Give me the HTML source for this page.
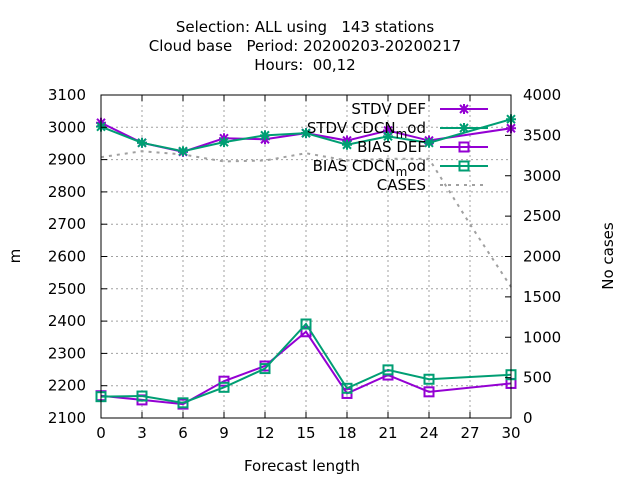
<!DOCTYPE html>
<html><head><meta charset="utf-8"><style>
body{margin:0;background:#fff}
svg{font-family:"DejaVu Sans","Liberation Sans",sans-serif;font-size:15px}
text{white-space:pre}
</style></head><body>
<svg width="640" height="480" id="c">
<g id="grid"></g>
<g id="marks"></g>
<g id="axes"></g>
<text x="305" y="32" text-anchor="middle">Selection: ALL using   143 stations</text>
<text x="305" y="51" text-anchor="middle">Cloud base   Period: 20200203-20200217</text>
<text x="305" y="70" text-anchor="middle">Hours:  00,12</text>
<text x="302" y="471" text-anchor="middle">Forecast length</text>
<text transform="translate(20,256) rotate(-90)" text-anchor="middle">m</text>
<text transform="translate(613,256) rotate(-90)" text-anchor="middle">No cases</text>
<g id="legend"></g>
</svg>
<script>
const xs=[0,3,6,9,12,15,18,21,24,30];
const stdvDef=[3014,2952,2924,2966,2963,2982,2959,2990,2959,2997];
const stdvMod=[3002,2952,2926,2954,2975,2982,2946,2972,2952,3025];
const biasDef=[2169,2156,2143,2214,2261,2367,2176,2233,2181,2207];
const biasMod=[2166,2168,2147,2195,2253,2391,2192,2249,2220,2234];
const casesX=[0,3,6,9,12,15,18,21,24,27,30];
const cases=[3230,3304,3263,3177,3189,3279,3189,3210,3210,2400,1623];
const xTicks=[0,3,6,9,12,15,18,21,24,27,30];
const yTicks=[2100,2200,2300,2400,2500,2600,2700,2800,2900,3000,3100];
const y2Ticks=[0,500,1000,1500,2000,2500,3000,3500,4000];
const L=101,R=511,T=95,B=418;
const X=v=>L+(v/30)*(R-L);
const Y=v=>B-(v-2100)/1000*(B-T);
const Y2=v=>B-v/4000*(B-T);
const NS="http://www.w3.org/2000/svg";
function mk(p,t,a){const e=document.createElementNS(NS,t);for(const k in a)e.setAttribute(k,a[k]);p.appendChild(e);return e;}
const grid=document.getElementById('grid'),axes=document.getElementById('axes'),marks=document.getElementById('marks'),leg=document.getElementById('legend');
xTicks.forEach(v=>{
 const g=mk(grid,'line',{x1:X(v),x2:X(v),y1:T,y2:B,stroke:'#a0a0a0','stroke-dasharray':'2,3'});
 
 
 mk(axes,'line',{x1:X(v),x2:X(v),y1:B,y2:B-6,stroke:'#000'});
 mk(axes,'line',{x1:X(v),x2:X(v),y1:T,y2:T+6,stroke:'#000'});
 const t=mk(axes,'text',{x:X(v),y:B+20,'text-anchor':'middle'});t.textContent=v;
 
 
});
yTicks.forEach(v=>{
 const g=mk(grid,'line',{x1:L,x2:R,y1:Y(v),y2:Y(v),stroke:'#a0a0a0','stroke-dasharray':'2,3'});
 
 
 mk(axes,'line',{x1:L,x2:L+6,y1:Y(v),y2:Y(v),stroke:'#000'});
 const t=mk(axes,'text',{x:L-15,y:Y(v)+5,'text-anchor':'end'});t.textContent=v;
 
 
});
y2Ticks.forEach(v=>{
 mk(axes,'line',{x1:R,x2:R-6,y1:Y2(v),y2:Y2(v),stroke:'#000'});
 const t=mk(axes,'text',{x:R+12,y:Y2(v)+5,'text-anchor':'start'});t.textContent=v;
 
 
});
mk(axes,'rect',{x:L,y:T,width:R-L,height:B-T,fill:'none',stroke:'#000'});
const casesLine=mk(marks,'polyline',{points:casesX.map((v,i)=>X(v)+','+Y2(cases[i])).join(' '),fill:'none',stroke:'#a0a0a0','stroke-width':2,'stroke-dasharray':'3,5'});


function star(p,x,y,c){mk(p,'path',{d:`M${x-5},${y}h10M${x},${y-5}v10M${x-4},${y-4}l8,8M${x-4},${y+4}l8,-8`,stroke:c,'stroke-width':2,fill:'none'});}
function sq(p,x,y,c){mk(p,'rect',{x:x-4.5,y:y-4.5,width:9,height:9,stroke:c,'stroke-width':2,fill:'none'});}
function series(vals,c,m,name){
 const g=mk(marks,'g',{});
 
 
 mk(g,'polyline',{points:xs.map((v,i)=>X(v)+','+Y(vals[i])).join(' '),fill:'none',stroke:c,'stroke-width':2});
 xs.forEach((v,i)=>m(g,X(v),Y(vals[i]),c));
}
const P='#9400d3',G='#009e73';
series(stdvDef,P,star,'stdv-def-series');
series(stdvMod,G,star,'stdv-cdcn-mod-series');
series(biasDef,P,sq,'bias-def-series');
series(biasMod,G,sq,'bias-cdcn-mod-series');
const rows=[{t:'STDV DEF',c:P,m:star},{t:'STDV CDCN',s:true,c:G,m:star},{t:'BIAS DEF',c:P,m:sq},{t:'BIAS CDCN',s:true,c:G,m:sq},{t:'CASES',c:'#a0a0a0',m:null}];
rows.forEach((r,i)=>{
 const y=109+i*19;
 const g=mk(leg,'g',{});
 
 
 const t=mk(g,'text',{x:426,y:y+5,'text-anchor':'end'});
 if(r.s){t.innerHTML=r.t+'<tspan dy="5" font-size="12">m</tspan><tspan dy="-5">od</tspan>';}else t.textContent=r.t;
 if(r.m){mk(g,'line',{x1:440,x2:488,y1:y,y2:y,stroke:r.c,'stroke-width':2});r.m(g,464,y,r.c);}
 else mk(g,'line',{x1:440,x2:488,y1:y,y2:y,stroke:r.c,'stroke-width':2,'stroke-dasharray':'3,5'});
});
</script>
</body></html>
